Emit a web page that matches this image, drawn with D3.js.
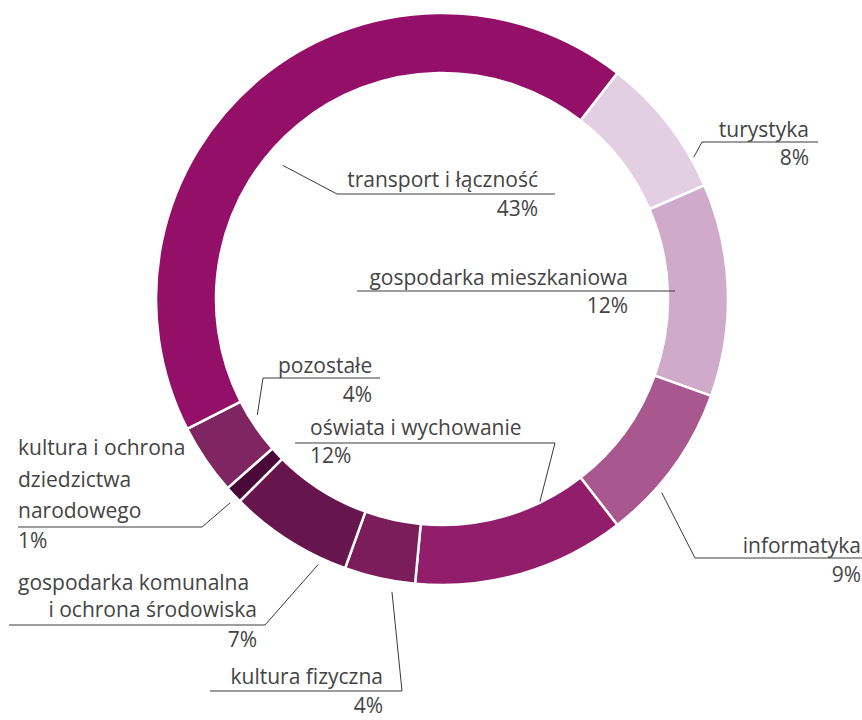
<!DOCTYPE html>
<html>
<head>
<meta charset="utf-8">
<script src="https://cdn.jsdelivr.net/npm/d3@7"></script>
<style>
  html, body { margin: 0; padding: 0; background: #fff; }
  svg { display: block; }
  .lbl { font-family: "Open Sans", sans-serif; font-size: 21px; fill: #444; }
  .lead { fill: none; stroke: #3a3a3a; stroke-width: 1; }
</style>
</head>
<body>
<div id="chart"></div>
<script>
// data, in drawing order (clockwise, starting at the turystyka slice)
var categories = ["turystyka", "gospodarka mieszkaniowa", "informatyka", "oświata i wychowanie",
  "kultura fizyczna", "gospodarka komunalna i ochrona środowiska",
  "kultura i ochrona dziedzictwa narodowego", "pozostałe", "transport i łączność"];
var shares = [8, 12, 9, 12, 4, 7, 1, 4, 43];
var colors = ["#e3cfe2", "#cfaaca", "#a9578f", "#911d6b", "#7b1d5a", "#66154d", "#4a0838", "#7e2562", "#930f68"];

// label text split in lines, and the printed percentages
var labelLines = [["turystyka"], ["gospodarka mieszkaniowa"], ["informatyka"], ["oświata i wychowanie"],
  ["kultura fizyczna"], ["gospodarka komunalna", "i ochrona środowiska"],
  ["kultura i ochrona", "dziedzictwa", "narodowego"], ["pozostałe"], ["transport i łączność"]];
var pctLabels = shares.map(function(d) { return d + "%"; });

var width = 862, height = 720;
var cx = 442, cy = 299, rOuter = 286, rInner = 226;

// label layout: text anchor x / baseline y, underline span, which end the leader leaves from,
// pointer offset (deg from slice middle) and radius
var layout = [
  {x: 809, y: 137, anchor: "end",   ux: [702, 818], uy: 142, side: 0, px: 809, pa: "end",   py: 165, dA: 8.4,  r: 289},
  {x: 628, y: 285, anchor: "end",   ux: [357, 675], uy: 291, side: 1, px: 628, pa: "end",   py: 313, dA: -0.2, r: 233},
  {x: 861, y: 553, anchor: "end",   ux: [695, 862], uy: 558, side: 0, px: 861, pa: "end",   py: 582, dA: 5.4,  r: 293},
  {x: 310, y: 435, anchor: "start", ux: [295, 555], uy: 443, side: 1, px: 310, pa: "start", py: 463, dA: -9.6, r: 225},
  {x: 383, y: 684, anchor: "end",   ux: [210, 402], uy: 691, side: 1, px: 383, pa: "end",   py: 713, dA: -2.9, r: 297},
  {x: 18,  y: 590, anchor: "start", ux: [9, 265],   uy: 625, side: 1, px: 257, pa: "end",   py: 647, dA: -7.4, r: 293, alt: [257, 617]},
  {x: 18,  y: 455, anchor: "start", ux: [18, 202],  uy: 527, side: 1, px: 18,  pa: "start", py: 548, dA: -0.7, r: 294, lh: 31.5},
  {x: 278, y: 373, anchor: "start", ux: [263, 380], uy: 378, side: 0, px: 372, pa: "end",   py: 402, dA: 2.1,  r: 218},
  {x: 538, y: 187, anchor: "end",   ux: [337, 555], uy: 194, side: 0, px: 538, pa: "end",   py: 216, dA: -10.4, r: 208}
];

var svg = d3.select("#chart").append("svg")
  .attr("width", width)
  .attr("height", height);

var g = svg.append("g").attr("transform", "translate(" + cx + "," + cy + ")");

var startA = 37.8 * Math.PI / 180;
var pie = d3.pie().sort(null).value(function(d) { return d; })
  .startAngle(startA).endAngle(startA + 2 * Math.PI);
var arcs = pie(shares);

var arc = d3.arc().innerRadius(rInner).outerRadius(rOuter);

g.selectAll("path.slice")
  .data(arcs)
  .enter().append("path")
    .attr("class", "slice")
    .attr("d", arc)
    .attr("fill", function(d, i) { return colors[i]; })
    .attr("stroke", "#fff")
    .attr("stroke-width", 2.5)
    .attr("stroke-linejoin", "miter");

// leaders + labels
var labels = svg.append("g");
arcs.forEach(function(a, i) {
  var L = layout[i];
  var mid = (a.startAngle + a.endAngle) / 2 + L.dA * Math.PI / 180;
  var p = [cx + L.r * Math.sin(mid), cy - L.r * Math.cos(mid)];
  var ends = [[L.ux[0], L.uy], [L.ux[1], L.uy]];
  var pts = L.side == 0 ? [p, ends[0], ends[1]] : [ends[0], ends[1], p];

  labels.append("path")
    .attr("class", "lead")
    .attr("d", d3.line()(pts));

  labelLines[i].forEach(function(t, j) {
    var tx = L.x, ty = L.y + j * (L.lh || 0), anc = L.anchor;
    if (L.alt && j == 1) { tx = L.alt[0]; ty = L.alt[1]; anc = "end"; }
    labels.append("text")
      .attr("class", "lbl")
      .attr("x", tx)
      .attr("y", ty)
      .attr("text-anchor", anc)
      .text(t);
  });

  labels.append("text")
    .attr("class", "lbl")
    .attr("x", L.px)
    .attr("y", L.py)
    .attr("text-anchor", L.pa)
    .text(pctLabels[i]);
});
</script>
</body>
</html>
